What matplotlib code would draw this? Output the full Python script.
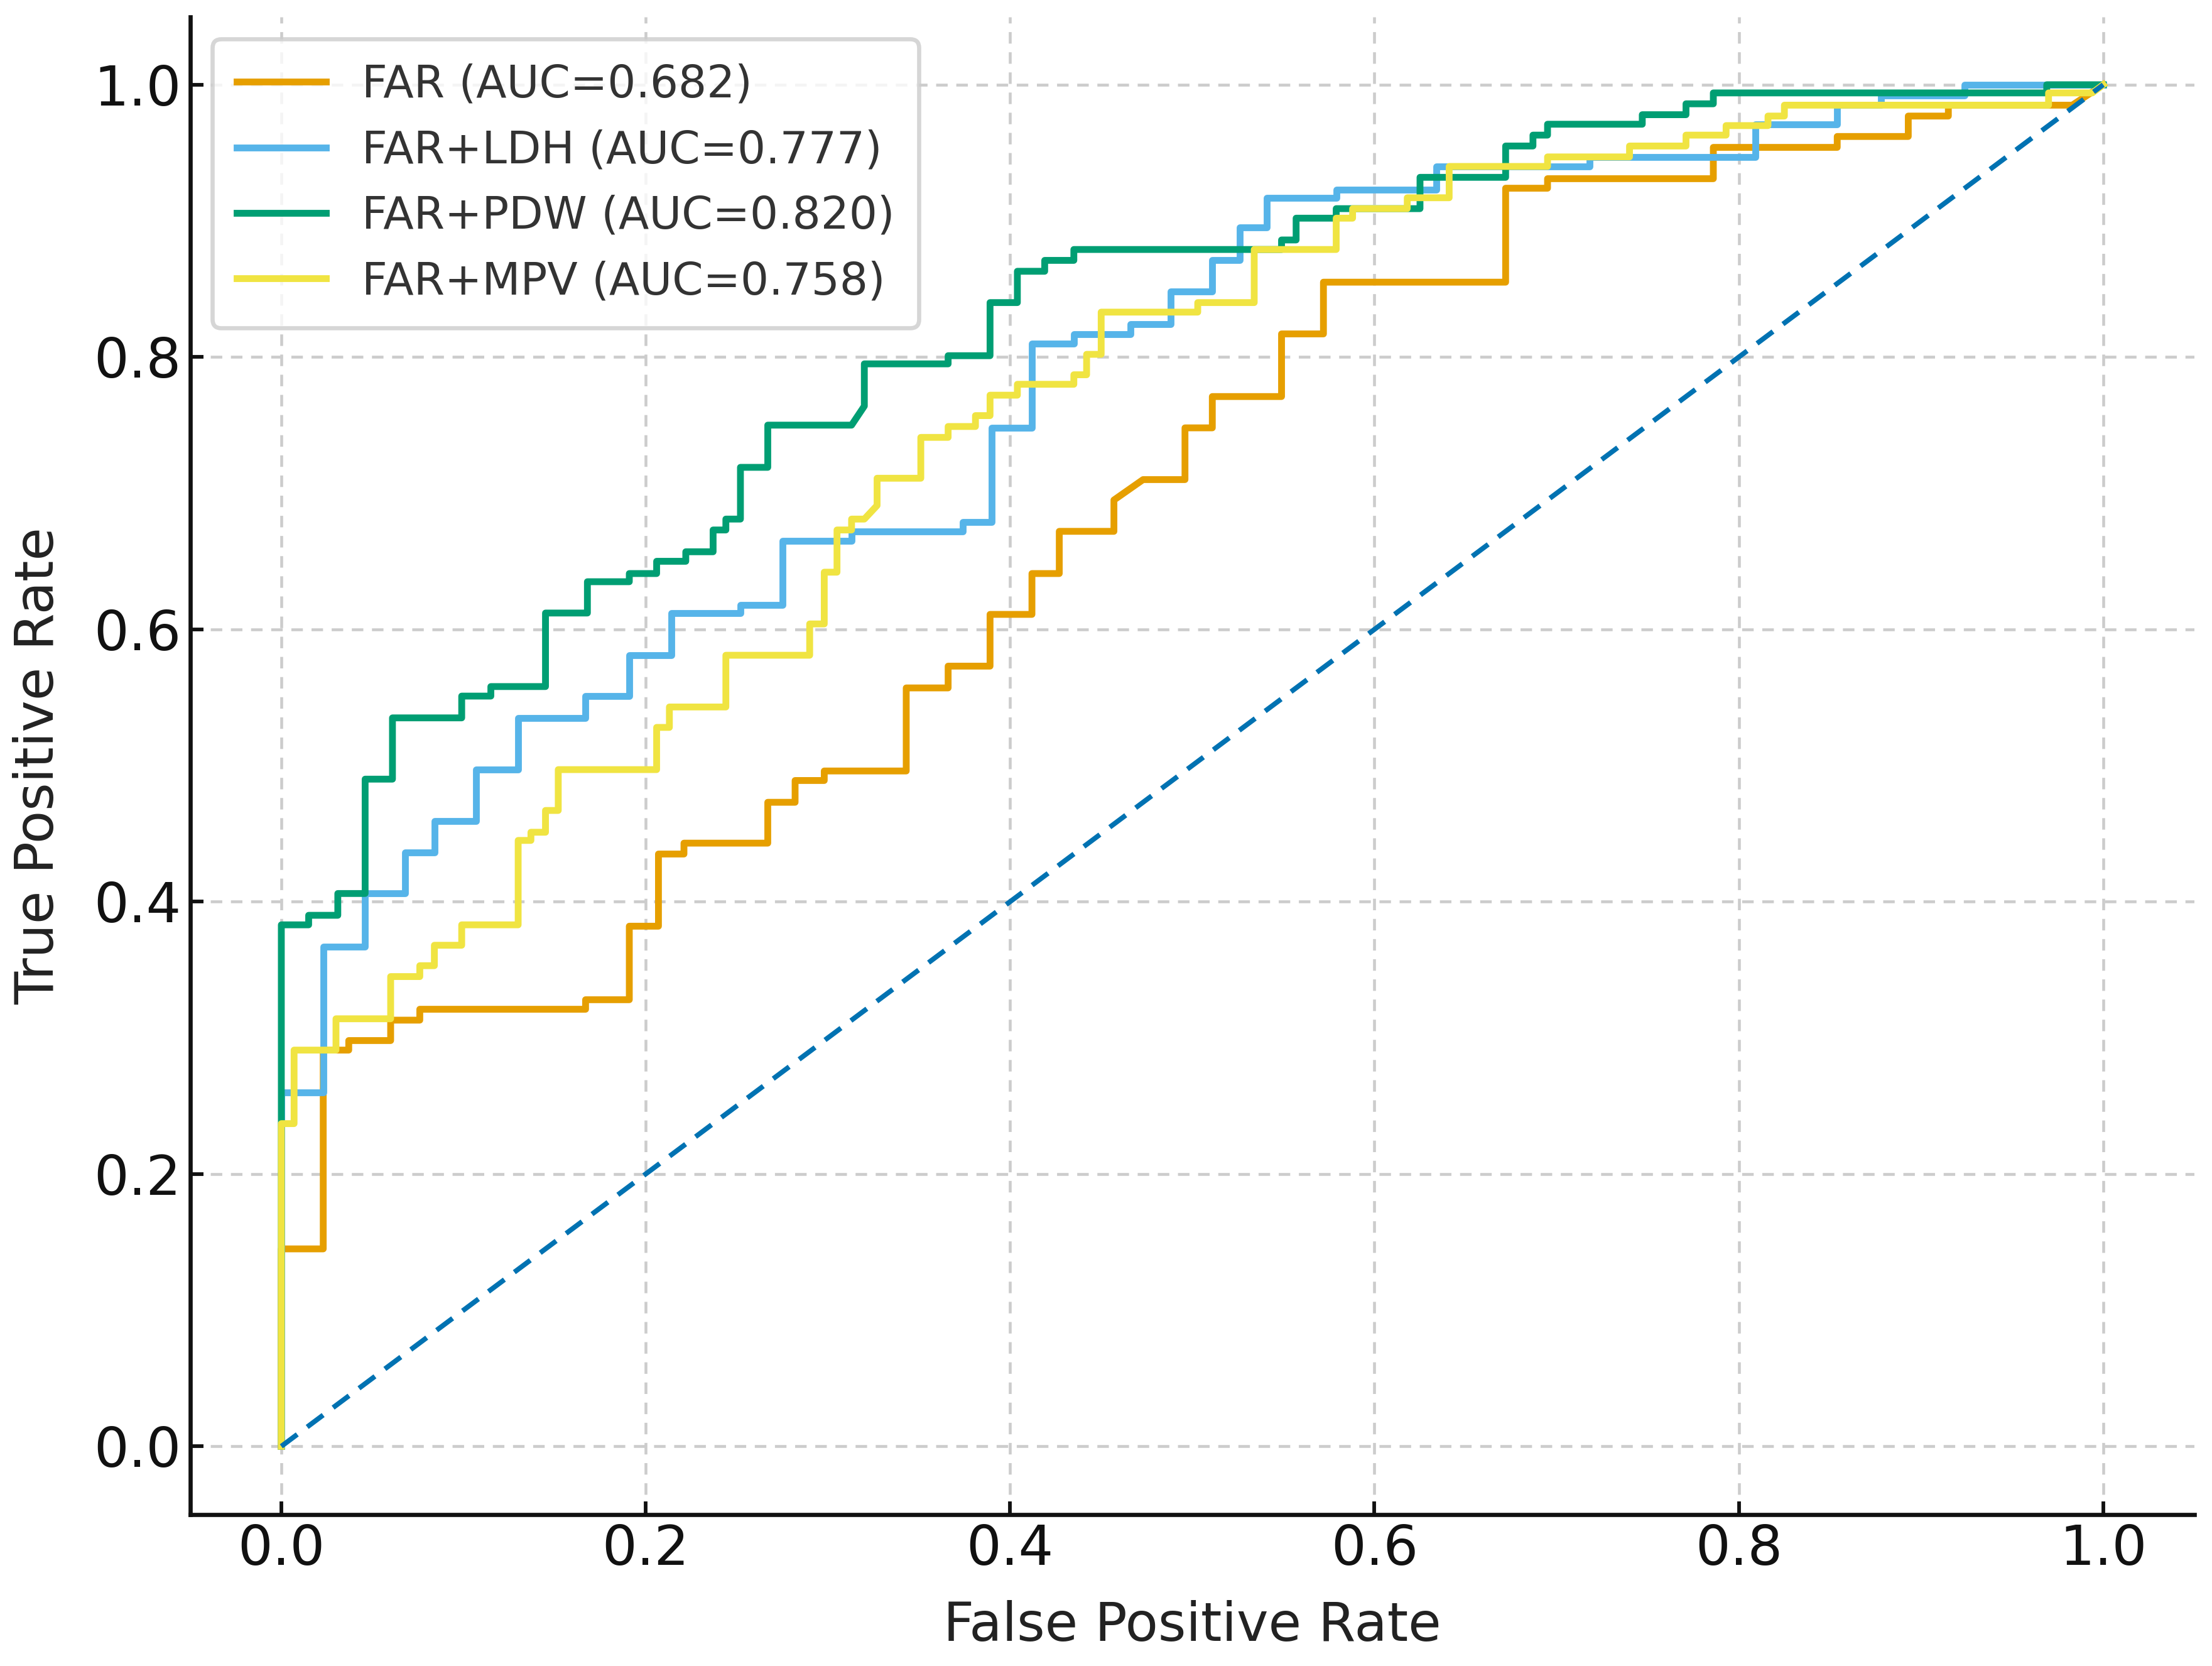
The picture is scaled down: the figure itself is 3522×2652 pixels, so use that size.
import matplotlib
matplotlib.use("Agg")
import matplotlib.pyplot as plt

# ROC vertices (fpr, tpr)
far_fpr = [0, 0, 0.023, 0.023, 0.037, 0.037, 0.060, 0.060, 0.076, 0.076,
           0.167, 0.167, 0.191, 0.191, 0.207, 0.207, 0.221, 0.221, 0.267, 0.267,
           0.282, 0.282, 0.298, 0.298, 0.343, 0.343, 0.366, 0.366, 0.389, 0.389,
           0.412, 0.412, 0.427, 0.427, 0.457, 0.457, 0.473, 0.496, 0.496, 0.511,
           0.511, 0.549, 0.549, 0.572, 0.572, 0.672, 0.672, 0.695, 0.695, 0.786,
           0.786, 0.854, 0.854, 0.893, 0.893, 0.915, 0.915, 0.983, 1.0]
far_tpr = [0, 0.145, 0.145, 0.291, 0.291, 0.298, 0.298, 0.313, 0.313, 0.321,
           0.321, 0.328, 0.328, 0.382, 0.382, 0.435, 0.435, 0.443, 0.443, 0.473,
           0.473, 0.489, 0.489, 0.496, 0.496, 0.557, 0.557, 0.573, 0.573, 0.611,
           0.611, 0.641, 0.641, 0.672, 0.672, 0.695, 0.710, 0.710, 0.748, 0.748,
           0.771, 0.771, 0.817, 0.817, 0.855, 0.855, 0.924, 0.924, 0.931, 0.931,
           0.954, 0.954, 0.962, 0.962, 0.977, 0.977, 0.985, 0.985, 1.0]

ldh_fpr = [0, 0, 0.023, 0.023, 0.046, 0.046, 0.068, 0.068, 0.084, 0.084,
           0.107, 0.107, 0.130, 0.130, 0.167, 0.167, 0.191, 0.191, 0.214, 0.214,
           0.252, 0.252, 0.275, 0.275, 0.313, 0.313, 0.374, 0.374, 0.390, 0.390,
           0.412, 0.412, 0.435, 0.435, 0.466, 0.466, 0.488, 0.488, 0.511, 0.511,
           0.526, 0.526, 0.541, 0.541, 0.579, 0.579, 0.634, 0.634, 0.718, 0.718,
           0.809, 0.809, 0.854, 0.854, 0.878, 0.878, 0.924, 0.924, 1.0]
ldh_tpr = [0, 0.260, 0.260, 0.367, 0.367, 0.406, 0.406, 0.436, 0.436, 0.459,
           0.459, 0.497, 0.497, 0.535, 0.535, 0.551, 0.551, 0.581, 0.581, 0.612,
           0.612, 0.618, 0.618, 0.665, 0.665, 0.672, 0.672, 0.679, 0.679, 0.748,
           0.748, 0.810, 0.810, 0.817, 0.817, 0.824, 0.824, 0.848, 0.848, 0.871,
           0.871, 0.895, 0.895, 0.917, 0.917, 0.923, 0.923, 0.940, 0.940, 0.947,
           0.947, 0.971, 0.971, 0.985, 0.985, 0.992, 0.992, 1.0, 1.0]

pdw_fpr = [0, 0, 0.015, 0.015, 0.031, 0.031, 0.046, 0.046, 0.061, 0.061,
           0.099, 0.099, 0.115, 0.115, 0.145, 0.145, 0.168, 0.168, 0.191, 0.191,
           0.206, 0.206, 0.222, 0.222, 0.237, 0.237, 0.244, 0.244, 0.252, 0.252,
           0.267, 0.267, 0.313, 0.320, 0.320, 0.366, 0.366, 0.389, 0.389, 0.404,
           0.404, 0.419, 0.419, 0.435, 0.435, 0.549, 0.549, 0.557, 0.557, 0.579,
           0.579, 0.625, 0.625, 0.672, 0.672, 0.687, 0.687, 0.695, 0.695, 0.747,
           0.747, 0.771, 0.771, 0.786, 0.786, 0.969, 0.969, 1.0]
pdw_tpr = [0, 0.383, 0.383, 0.390, 0.390, 0.406, 0.406, 0.490, 0.490, 0.535,
           0.535, 0.551, 0.551, 0.558, 0.558, 0.612, 0.612, 0.635, 0.635, 0.641,
           0.641, 0.650, 0.650, 0.657, 0.657, 0.673, 0.673, 0.681, 0.681, 0.719,
           0.719, 0.750, 0.750, 0.764, 0.795, 0.795, 0.801, 0.801, 0.840, 0.840,
           0.863, 0.863, 0.871, 0.871, 0.879, 0.879, 0.886, 0.886, 0.902, 0.902,
           0.909, 0.909, 0.932, 0.932, 0.955, 0.955, 0.963, 0.963, 0.971, 0.971,
           0.978, 0.978, 0.986, 0.986, 0.994, 0.994, 1.0, 1.0]

mpv_fpr = [0, 0, 0.007, 0.007, 0.030, 0.030, 0.060, 0.060, 0.076, 0.076,
           0.084, 0.084, 0.099, 0.099, 0.130, 0.130, 0.137, 0.137, 0.145, 0.145,
           0.152, 0.152, 0.206, 0.206, 0.213, 0.213, 0.244, 0.244, 0.290, 0.290,
           0.298, 0.298, 0.305, 0.305, 0.313, 0.313, 0.320, 0.327, 0.327, 0.351,
           0.351, 0.366, 0.366, 0.381, 0.381, 0.389, 0.389, 0.404, 0.404, 0.435,
           0.435, 0.442, 0.442, 0.450, 0.450, 0.503, 0.503, 0.534, 0.534, 0.579,
           0.579, 0.588, 0.588, 0.618, 0.618, 0.641, 0.641, 0.695, 0.695, 0.740,
           0.740, 0.771, 0.771, 0.793, 0.793, 0.816, 0.816, 0.825, 0.825, 0.970,
           0.970, 0.994, 1.0]
mpv_tpr = [0, 0.237, 0.237, 0.291, 0.291, 0.314, 0.314, 0.345, 0.345, 0.353,
           0.353, 0.368, 0.368, 0.383, 0.383, 0.445, 0.445, 0.451, 0.451, 0.467,
           0.467, 0.497, 0.497, 0.528, 0.528, 0.543, 0.543, 0.581, 0.581, 0.604,
           0.604, 0.642, 0.642, 0.673, 0.673, 0.681, 0.681, 0.691, 0.711, 0.711,
           0.741, 0.741, 0.749, 0.749, 0.757, 0.757, 0.772, 0.772, 0.780, 0.780,
           0.787, 0.787, 0.802, 0.802, 0.833, 0.833, 0.840, 0.840, 0.879, 0.879,
           0.902, 0.902, 0.909, 0.909, 0.917, 0.917, 0.940, 0.940, 0.947, 0.947,
           0.955, 0.955, 0.963, 0.963, 0.970, 0.970, 0.977, 0.977, 0.985, 0.985,
           0.994, 0.994, 1.0]

labels = ['FAR (AUC=0.682)', 'FAR+LDH (AUC=0.777)',
          'FAR+PDW (AUC=0.820)', 'FAR+MPV (AUC=0.758)']
colors = ['#E69F00', '#56B4E9', '#009E73', '#F0E442']

plt.rcParams['font.family'] = ['DejaVu Sans']
fig = plt.figure(figsize=(11.74, 8.84), dpi=300)
ax = fig.add_axes([0.086, 0.091, 0.906, 0.899])

curves = [(far_fpr, far_tpr), (ldh_fpr, ldh_tpr), (pdw_fpr, pdw_tpr), (mpv_fpr, mpv_tpr)]
for (fx, fy), lab, c in zip(curves, labels, colors):
    ax.plot(fx, fy, color=c, lw=2.6, label=lab)

ax.plot([0, 1], [0, 1], '--', color='#0072B2', lw=1.9, dashes=(4, 2.5))

ax.set_xlim(-0.05, 1.05)
ax.set_ylim(-0.05, 1.05)
ax.set_xticks([0, 0.2, 0.4, 0.6, 0.8, 1.0])
ax.set_yticks([0, 0.2, 0.4, 0.6, 0.8, 1.0])
ax.set_xlabel('False Positive Rate', fontsize=20.5, color='#222222', labelpad=9)
ax.set_ylabel('True Positive Rate', fontsize=20.5, color='#222222', labelpad=11)
ax.tick_params(direction='in', labelsize=21, length=5, width=1.4, colors='#111111')
ax.grid(True, linestyle=(0, (4, 3)), color='#cccccc', lw=1.1)
ax.set_axisbelow(True)
for s in ['top', 'right']:
    ax.spines[s].set_visible(False)
for s in ['left', 'bottom']:
    ax.spines[s].set_linewidth(1.6)
    ax.spines[s].set_color('#111111')

leg = ax.legend(loc='upper left', fontsize=17, frameon=True, fancybox=True,
                borderpad=0.55, labelspacing=0.5, handlelength=2.0,
                bbox_to_anchor=(0.0, 1.0))
leg.get_frame().set_edgecolor('#cccccc')
leg.get_frame().set_linewidth(1.6)
for t in leg.get_texts():
    t.set_color('#333333')

fig.savefig('out.png', dpi=300)
